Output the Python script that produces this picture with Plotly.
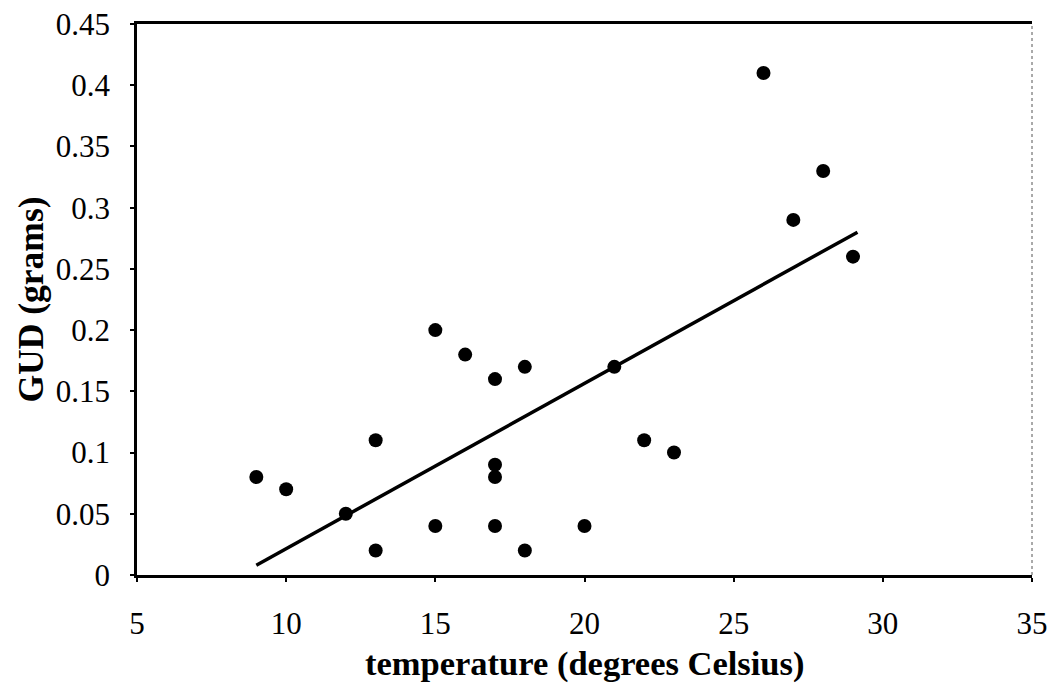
import plotly.graph_objects as go

temperature = [9, 10, 12, 13, 13, 15, 15, 16, 17, 17, 17, 17, 18, 18, 20, 21, 22, 23, 26, 27, 28, 29]
gud = [0.08, 0.07, 0.05, 0.11, 0.02, 0.20, 0.04, 0.18, 0.16, 0.09, 0.08, 0.04, 0.17, 0.02, 0.04, 0.17, 0.11, 0.10, 0.41, 0.29, 0.33, 0.26]

# trend line end points
trend_x = [9, 29.15]
trend_y = [0.008, 0.280]

x_ticks = [5, 10, 15, 20, 25, 30, 35]
y_ticks = [0, 0.05, 0.1, 0.15, 0.2, 0.25, 0.3, 0.35, 0.4, 0.45]
y_tick_labels = ["0", "0.05", "0.1", "0.15", "0.2", "0.25", "0.3", "0.35", "0.4", "0.45"]

x_title = "temperature (degrees Celsius)"
y_title = "GUD (grams)"

font_family = "Liberation Serif, Times New Roman, serif"

fig = go.Figure()
fig.add_trace(go.Scatter(x=trend_x, y=trend_y, mode="lines",
                         line=dict(color="black", width=3.5), showlegend=False))
fig.add_trace(go.Scatter(x=temperature, y=gud, mode="markers",
                         marker=dict(color="black", size=14), showlegend=False))

fig.update_layout(
    width=1042, height=678,
    margin=dict(l=129, r=18, t=16, b=111),
    paper_bgcolor="white", plot_bgcolor="white",
    font=dict(family=font_family, color="black", size=31),
    xaxis=dict(range=[5, 35], tickvals=x_ticks, showgrid=False, zeroline=False,
               automargin=False, mirror=True, ticklabeloverflow="allow",
               showline=True, linecolor="black", linewidth=2.5,
               ticks="outside", ticklen=4, tickwidth=1.5, tickcolor="black",
               ticklabelstandoff=15),
    yaxis=dict(range=[0, 0.45], tickvals=y_ticks, ticktext=y_tick_labels,
               showgrid=False, zeroline=False, automargin=False,
               ticklabeloverflow="allow",
               showline=True, linecolor="black", linewidth=2.5,
               ticks="outside", ticklen=4, tickwidth=1.5, tickcolor="black",
               ticklabelstandoff=14,
               title=dict(text="<b>" + y_title + "</b>", font=dict(size=35.5), standoff=2)),
    annotations=[
        dict(text="<b>" + x_title + "</b>", xref="paper", yref="paper",
             x=0.5, y=0, xanchor="center", yanchor="middle", yshift=-88,
             showarrow=False, font=dict(size=34.5)),
    ],
    shapes=[
        dict(type="line", xref="paper", yref="paper", x0=1, x1=1, y0=0, y1=1,
             line=dict(color="#555555", width=1, dash="dot")),
    ],
)

fig.write_html("out.html")
